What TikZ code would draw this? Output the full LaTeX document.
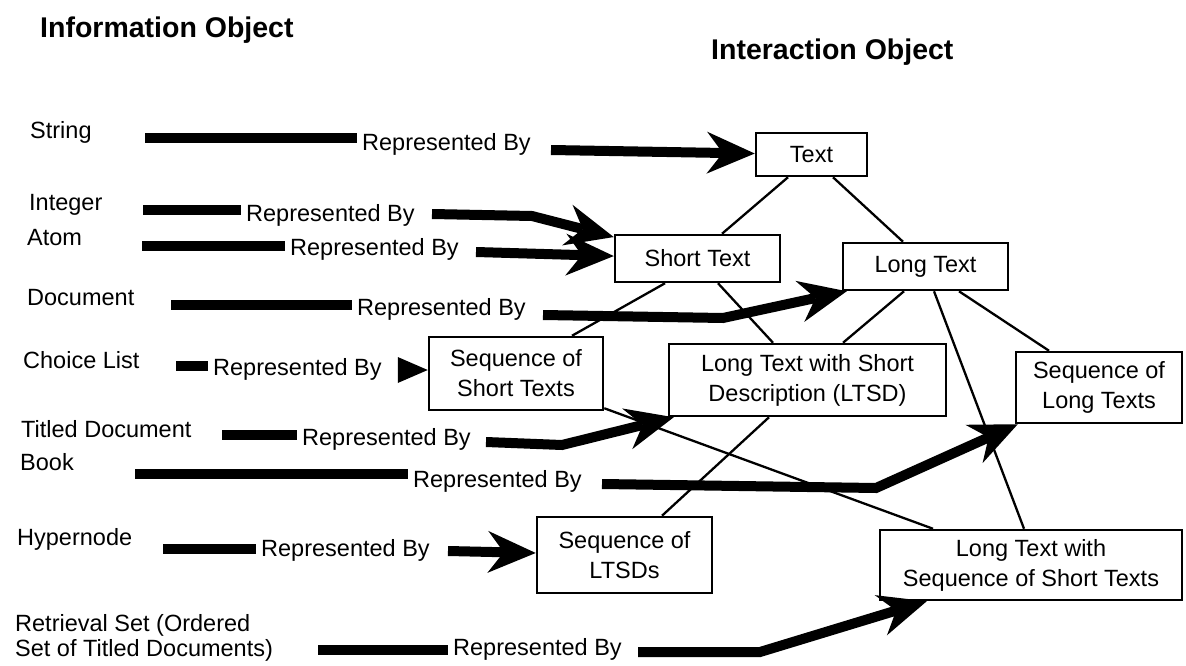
\documentclass[tikz,border=0pt]{standalone}
\usepackage{fontspec}
\setmainfont{Liberation Sans}
\usetikzlibrary{arrows.meta}
\begin{document}
\begin{tikzpicture}[x=1pt,y=-1pt,
  lbl/.style={anchor=base west, inner sep=0pt, font=\fontsize{23.5}{25}\selectfont},
  rb/.style={anchor=base west, inner xsep=5pt, inner ysep=0pt, font=\fontsize{23.5}{25}\selectfont},
  ttl/.style={anchor=base west, inner sep=0pt, font=\fontsize{28.5}{34}\selectfont\bfseries},
  box/.style={draw, line width=2.5pt, align=center, inner sep=0pt, font=\fontsize{23.5}{30}\selectfont},
  link/.style={line width=2.3pt},
  shaft/.style={line width=10pt},
  arr/.style={line width=10pt, -{Stealth[length=48pt,width=42pt,inset=16pt,line width=0pt]}},
  tri/.style={line width=1pt, -{Triangle[length=30pt,width=26pt,line width=0pt]}},
]
\useasboundingbox (0,0) rectangle (1186,666);
\fill[white] (0,0) rectangle (1186,666);

% titles
\node[ttl] (t1) at (40,38) {Information Object};
\node[ttl] (t2) at (711,60) {Interaction Object};

% interaction object boxes
\node[box, minimum width=111pt, minimum height=43pt] (text) at (811.5,154.5) {Text};
\node[box, minimum width=165pt, minimum height=47pt] (short) at (697.5,258.5) {Short Text};
\node[box, minimum width=165pt, minimum height=47pt] (long) at (925.5,266.5) {Long Text};
\node[box, minimum width=174pt, minimum height=73pt] (seqst) at (516,373.5) {Sequence of\\Short Texts};
\node[box, minimum width=277pt, minimum height=72pt] (ltsd) at (807.5,380) {Long Text with Short\\Description (LTSD)};
\node[box, minimum width=166pt, minimum height=71pt] (seqlt) at (1099,387.5) {Sequence of\\Long Texts};
\node[box, minimum width=175pt, minimum height=76pt] (seqltsd) at (624.5,555) {Sequence of\\LTSDs};
\node[box, minimum width=302pt, minimum height=70pt] (ltwsst) at (1031,565) {Long Text with\\Sequence of Short Texts};

% hierarchy links
\draw[link] ([xshift=-23.5pt]text.south) -- ([xshift=24.5pt]short.north);
\draw[link] ([xshift=21.5pt]text.south) -- ([xshift=-22.5pt]long.north);
\draw[link] ([xshift=-32.5pt]short.south) -- ([xshift=56pt]seqst.north);
\draw[link] ([xshift=20.5pt]short.south) -- ([xshift=-34.5pt]ltsd.north);
\draw[link] ([xshift=-21.5pt]long.south) -- ([xshift=35.5pt]ltsd.north);
\draw[link] ([xshift=8.5pt]long.south) -- ([xshift=-7pt]ltwsst.north);
\draw[link] ([xshift=33.5pt]long.south) -- ([xshift=-50pt]seqlt.north);
\draw[link] ([yshift=3pt]seqst.south east) -- ([xshift=-98pt]ltwsst.north);
\draw[link] ([xshift=-38.5pt]ltsd.south) -- ([xshift=37.5pt]seqltsd.north);

% String
\node[lbl] (string) at (30,139) {String};
\node[rb] (rb1) at (357,150) {Represented By};
\coordinate (a1) at (145,138);
\draw[shaft] (a1) -- (a1 -| rb1.west);
\coordinate (b1) at (551,150);
\draw[arr] (b1) -- (text);

% Integer
\node[lbl] (integer) at (29,210) {Integer};
\node[rb] (rb2) at (241,221) {Represented By};
\coordinate (a2) at (143,210);
\draw[shaft] (a2) -- (a2 -| rb2.west);
\coordinate (b2) at (432,214);
\draw[arr] (b2) -- (532,216) -- (short);

% Atom
\node[lbl] (atom) at (27,245) {Atom};
\node[rb] (rb3) at (285,255) {Represented By};
\coordinate (a3) at (142,245.5);
\draw[shaft] (a3) -- (a3 -| rb3.west);
\coordinate (b3) at (476,252);
\draw[arr] (b3) -- (short);

% Document
\node[lbl] (document) at (27,305) {Document};
\node[rb] (rb4) at (352,315) {Represented By};
\coordinate (a4) at (171,304.5);
\draw[shaft] (a4) -- (a4 -| rb4.west);
\coordinate (b4) at (543,315);
\draw[arr] (b4) -- (723,318) -- ([xshift=5pt]long.south west);

% Choice List
\node[lbl] (choice) at (23,368) {Choice List};
\node[rb] (rb5) at (208,375) {Represented By};
\coordinate (a5) at (176,365.5);
\draw[shaft] (a5) -- (a5 -| rb5.west);
\coordinate (b5) at (399,370);
\draw[tri] (b5) -- (b5 -| seqst.west);

% Titled Document
\node[lbl] (titled) at (21,437) {Titled Document};
\node[rb] (rb6) at (297,445) {Represented By};
\coordinate (a6) at (222,435);
\draw[shaft] (a6) -- (a6 -| rb6.west);
\coordinate (b6) at (486,442);
\draw[arr] (b6) -- (562,445) -- ([xshift=6pt]ltsd.south west);

% Book
\node[lbl] (book) at (20,470) {Book};
\node[rb] (rb7) at (408,487) {Represented By};
\coordinate (a7) at (135,473.5);
\draw[shaft] (a7) -- (a7 -| rb7.west);
\coordinate (b7) at (602,484);
\draw[arr] (b7) -- (876,488) -- ([xshift=3pt]seqlt.south west);

% Hypernode
\node[lbl] (hyper) at (17,545) {Hypernode};
\node[rb] (rb8) at (256,556) {Represented By};
\coordinate (a8) at (163,549);
\draw[shaft] (a8) -- (a8 -| rb8.west);
\coordinate (b8) at (448,551);
\draw[arr] (b8) -- (seqltsd);

% Retrieval Set
\node[lbl, anchor=west, align=left] (retr) at (15,638) {Retrieval Set (Ordered\\Set of Titled Documents)};
\node[rb] (rb9) at (448,655) {Represented By};
\coordinate (a9) at (318,650);
\draw[shaft] (a9) -- (a9 -| rb9.west);
\coordinate (b9) at (638,652);
\draw[arr] (b9) -- (760,652) -- ([xshift=48pt]ltwsst.south west);
\end{tikzpicture}
\end{document}
